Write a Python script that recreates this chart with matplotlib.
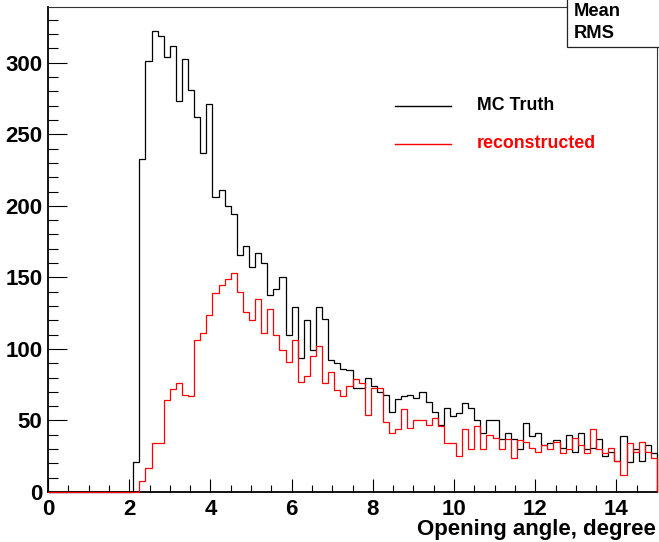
import numpy as np
import matplotlib
matplotlib.use("Agg")
import matplotlib.pyplot as plt
from matplotlib.lines import Line2D
from matplotlib.patches import Rectangle
from matplotlib.ticker import MultipleLocator

# 100 bins from 0 to 15 (width 0.15)
bin_edges = np.linspace(0.0, 15.0, 101)

mc_truth = [0]*14 + [
    21, 233, 301, 322, 319, 304, 312, 273, 303, 281,
    262, 237, 271, 206, 211, 200, 194, 166, 172, 157,
    167, 160, 138, 142, 150, 110, 129, 94, 120, 99,
    129, 121, 92, 90, 86, 85, 73, 73, 80, 74,
    70, 68, 56, 65, 67, 68, 66, 70, 63, 56,
    47, 59, 53, 55, 62, 59, 50, 41, 50, 50,
    37, 41, 37, 30, 48, 39, 41, 33, 34, 36,
    31, 40, 28, 41, 30, 31, 37, 25, 28, 22,
    39, 21, 30, 22, 33, 27]

reconstructed = [0]*15 + [
    8, 17, 34, 34, 64, 72, 76, 68, 67,
    106, 111, 124, 139, 145, 149, 153, 140, 126, 120,
    135, 111, 128, 110, 99, 91, 106, 77, 81, 95,
    102, 76, 84, 71, 67, 74, 79, 76, 54, 73,
    73, 49, 41, 44, 58, 45, 50, 50, 47, 52,
    46, 34, 34, 25, 44, 30, 46, 30, 40, 38,
    30, 37, 24, 36, 35, 31, 28, 33, 30, 35,
    27, 30, 38, 33, 27, 44, 30, 27, 31, 22,
    12, 34, 28, 35, 28, 24]

legend_labels = ["MC Truth", "reconstructed"]
x_label = "Opening angle, degree"
stat_labels = ["Mean", "RMS"]

W, H = 659, 542
fig = plt.figure(figsize=(W/100, H/100), dpi=100)
plt.rcParams['font.family'] = ['Liberation Sans', 'DejaVu Sans']

def fx(px):
    return px / W

def fy(py):
    return 1 - py / H

L, R, T, B = 48, 657, 7, 492
ax = fig.add_axes([fx(L), fy(B), fx(R) - fx(L), fy(T) - fy(B)])

ax.stairs(mc_truth, bin_edges, color="black", linewidth=0.9, zorder=5, clip_on=False)
ax.stairs(reconstructed, bin_edges, color="#ff0000", linewidth=0.9, zorder=6, clip_on=False)

ax.set_xlim(0, 15)
ax.set_ylim(0, 339)

ax.xaxis.set_major_locator(MultipleLocator(2))
ax.xaxis.set_minor_locator(MultipleLocator(0.5))
ax.yaxis.set_major_locator(MultipleLocator(50))
ax.yaxis.set_minor_locator(MultipleLocator(10))

ax.tick_params(axis="both", which="both", direction="in", top=False, right=False)
ax.tick_params(axis="x", which="major", length=9.5, width=0.8, pad=5,
               labelsize=16)
ax.tick_params(axis="x", which="minor", length=5, width=0.8)
ax.tick_params(axis="y", which="major", length=13.5, width=0.8, pad=4,
               labelsize=16)
ax.tick_params(axis="y", which="minor", length=7, width=0.8)
for lab in ax.get_xticklabels() + ax.get_yticklabels():
    lab.set_fontweight("bold")

for s in ["left", "bottom"]:
    ax.spines[s].set_linewidth(1.3)
for s in ["top", "right"]:
    ax.spines[s].set_linewidth(0.8)
    ax.spines[s].set_color("#333333")

fig.text(fx(656), fy(535), x_label, ha="right", va="baseline",
         fontsize=16, fontweight="bold")

# legend (drawn manually, ROOT-like)
leg_colors = ["black", "#ff0000"]
leg_y = [106, 143.5]
for lab, c, yy in zip(legend_labels, leg_colors, leg_y):
    fig.add_artist(Line2D([fx(395), fx(451)], [fy(yy), fy(yy)],
                          color=c, linewidth=1.0, transform=fig.transFigure))
    fig.text(fx(477), fy(yy - 0.5), lab, ha="left", va="center",
             fontsize=12.8, fontweight="bold", color=c)

# stats box
box = Rectangle((fx(566.5), fy(46.5)), fx(W + 5) - fx(566.5), fy(-2) - fy(46.5),
                transform=fig.transFigure, facecolor="white",
                edgecolor="#222222", linewidth=0.9, zorder=10, clip_on=False)
fig.add_artist(box)
for lab, yy in zip(stat_labels, [12, 34]):
    t = fig.text(fx(574), fy(yy), lab, ha="left", va="center",
                 fontsize=13.2, fontweight="bold", zorder=11)

fig.savefig("out.png", dpi=100)
